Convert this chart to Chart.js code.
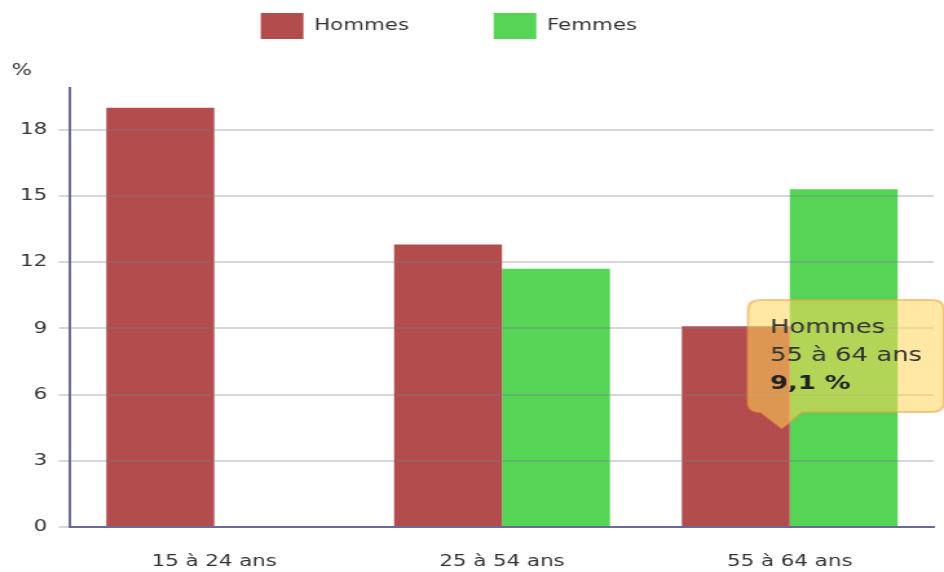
<!DOCTYPE html>
<html>
<head>
<meta charset="utf-8">
<script src="https://cdn.jsdelivr.net/npm/chart.js@4/dist/chart.umd.min.js"></script>
<style>
  html, body { margin: 0; padding: 0; background: #fff; }
  canvas { display: block; }
</style>
</head>
<body>
<!-- drawn narrow then stretched, like the reference -->
<canvas id="chart" width="730" height="572" style="width:944px;height:572px"></canvas>
<script>
const categories = ['15 à 24 ans', '25 à 54 ans', '55 à 64 ans'];
const hommes = [19.0, 12.8, 9.1];
const femmes = [0, 11.7, 15.3];
const yTicks = [0, 3, 6, 9, 12, 15, 18];

Chart.defaults.font.family = "'DejaVu Sans', Verdana, sans-serif";
Chart.defaults.font.size = 16.5;
Chart.defaults.color = '#333';

// tooltip tip sits on the right edge of the bar
Chart.Tooltip.positioners.barEdge = function (items) {
    if (!items.length) return false;
    const el = items[0].element;
    return { x: el.x + el.width / 2, y: el.y + (el.base - el.y) * 0.6 };
};

const legendPad = [10, 7];

const ctx = document.getElementById('chart').getContext('2d');
const chart = new Chart(ctx, {
    type: 'bar',
    data: {
        labels: categories,
        datasets: [
            { label: 'Hommes', data: hommes, backgroundColor: '#b34c4c' },
            { label: 'Femmes', data: femmes, backgroundColor: '#55d455' }
        ]
    },
    options: {
        responsive: false,
        animation: false,
        devicePixelRatio: 1,
        events: [],
        layout: { padding: { left: 9, right: 8, top: 0, bottom: 0 } },
        datasets: { bar: { categoryPercentage: 0.75, barPercentage: 1.0 } },
        scales: {
            x: {
                afterFit: scale => { scale.height = 45; },
                grid: { display: false, drawTicks: false },
                border: { display: true, color: '#6a6a98', width: 2, z: 2 },
                ticks: { padding: 25, color: '#333', maxRotation: 0 }
            },
            y: {
                min: 0,
                max: 19.9,
                afterBuildTicks: scale => {
                    scale.ticks = yTicks.map(v => ({ value: v }));
                },
                afterFit: scale => { scale.width = 45.4; },
                grid: {
                    color: 'rgba(120,120,150,0.3)',
                    lineWidth: 2,
                    tickLength: 9,
                    z: 1
                },
                border: { display: true, color: '#6a6a98', width: 2, z: 2 },
                ticks: { padding: 9, color: '#333' }
            }
        },
        plugins: {
            legend: {
                position: 'top',
                labels: {
                    boxWidth: 33,
                    boxHeight: 26,
                    padding: 13,
                    color: '#333',
                    generateLabels: c => {
                        const items = Chart.defaults.plugins.legend.labels.generateLabels(c);
                        items.forEach((it, i) => {
                            it.text = it.text + ' '.repeat(legendPad[i]);
                            it.lineWidth = 0;
                        });
                        return items;
                    }
                }
            },
            title: {
                display: true,
                text: '%',
                align: 'start',
                position: 'top',
                weight: 500,
                color: '#333',
                font: { size: 16.5, weight: 'normal' },
                padding: { top: 12, bottom: 7 }
            },
            tooltip: {
                enabled: true,
                position: 'barEdge',
                xAlign: 'left',
                yAlign: 'bottom',
                backgroundColor: 'rgba(255,214,90,0.55)',
                borderColor: 'rgba(235,160,70,0.55)',
                borderWidth: 2,
                cornerRadius: 10,
                caretSize: 16,
                caretPadding: 18,
                padding: { top: 16, bottom: 16, left: 17, right: 17 },
                displayColors: false,
                titleColor: '#333',
                bodyColor: '#222',
                titleFont: { size: 20, weight: 'normal' },
                bodyFont: { size: 20, weight: 'bold' },
                titleSpacing: 4,
                titleMarginBottom: 4,
                callbacks: {
                    title: items => [items[0].dataset.label, items[0].label],
                    label: item => String(item.parsed.y).replace('.', ',') + ' %'
                }
            }
        }
    }
});

chart.tooltip.setActiveElements([{ datasetIndex: 0, index: 2 }], { x: 0, y: 0 });
chart.update();
</script>
</body>
</html>
